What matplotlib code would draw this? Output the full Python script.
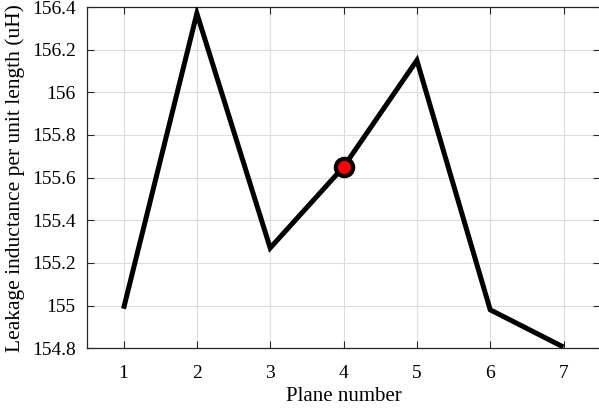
import numpy as np
import matplotlib
matplotlib.use('Agg')
import matplotlib.pyplot as plt

plt.rcParams['font.family'] = ['Liberation Serif', 'DejaVu Serif']
plt.rcParams['mathtext.fontset'] = 'stix'

# 每个平面的漏感
planes = [1, 2, 3, 4, 5, 6, 7]
inductance = [154.985, 156.37, 155.27, 155.65, 156.15, 154.98, 154.805]
# 标记点
mark_plane = 4
mark_value = 155.65

fig = plt.figure(figsize=(5.99, 4.13), dpi=100)
ax = fig.add_axes([0.145, 0.157, 0.857, 0.826])

ax.plot(planes, inductance, color='black', linewidth=3.6, solid_joinstyle='miter',
        solid_capstyle='butt', zorder=3)
ax.plot(mark_plane, mark_value, 'o', markersize=12.5, markerfacecolor='red',
        markeredgecolor='black', markeredgewidth=3, zorder=4)

ax.set_xlim(0.5, 7.5)
ax.set_ylim(154.8, 156.4)
ax.set_xticks(planes)
yt = [154.8, 155, 155.2, 155.4, 155.6, 155.8, 156, 156.2, 156.4]
ax.set_yticks(yt)
ax.set_yticklabels(['154.8', '155', '155.2', '155.4', '155.6', '155.8', '156', '156.2', '156.4'])

ax.grid(True, color='#dcdcdc', linewidth=0.8)
ax.set_axisbelow(True)
ax.tick_params(direction='in', top=True, right=True, length=5, width=0.8,
               color='#262626', labelsize=14)
ax.tick_params(axis='x', pad=12)
ax.tick_params(axis='y', pad=8)
for s in ax.spines.values():
    s.set_color('#262626')
    s.set_linewidth(0.9)

ax.set_xlabel('Plane number', fontsize=15, labelpad=4)
ax.set_ylabel('Leakage inductance per unit length (uH)', fontsize=15.5, labelpad=5)

fig.savefig('out.png', dpi=100)
